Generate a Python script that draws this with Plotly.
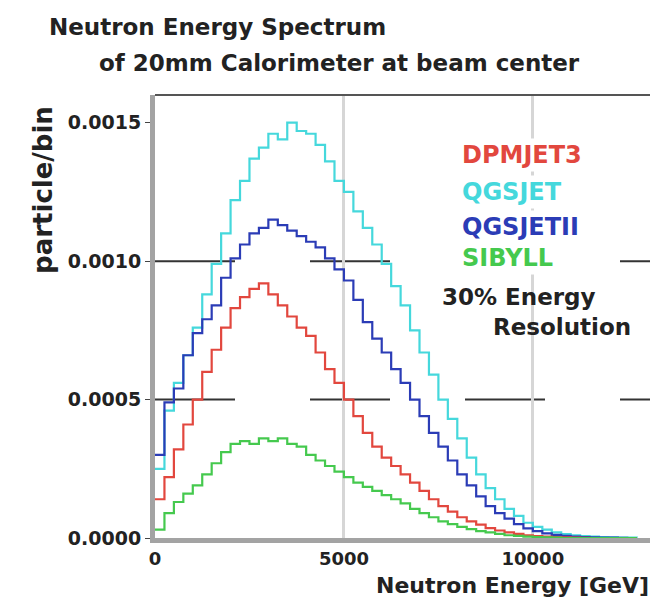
import plotly.graph_objects as go

# Bin lower edges (GeV)
energy = [i * 250 for i in range(52)]

dpmjet3 = [1.4, 2.2, 3.2, 4.1, 5.0, 6.0, 6.8, 7.6, 8.3, 8.7, 9.0, 9.2, 8.8, 8.4, 8.0, 7.6,
           7.3, 6.7, 6.1, 5.6, 5.0, 4.4, 3.8, 3.3, 2.9, 2.6, 2.3, 2.0, 1.7, 1.4, 1.15, 0.95,
           0.75, 0.6, 0.48, 0.36, 0.27, 0.2, 0.15, 0.1, 0.07, 0.05, 0.03, 0.02, 0.01, 0.005,
           0.0, 0.0, 0.0, 0.0, 0.0, 0.0]
qgsjet = [2.5, 4.6, 5.6, 6.6, 7.6, 8.8, 9.9, 11.0, 12.2, 12.9, 13.7, 14.1, 14.6, 14.4, 15.0, 14.7,
          14.6, 14.2, 13.6, 12.9, 12.5, 11.8, 11.2, 10.6, 9.9, 9.1, 8.4, 7.5, 6.7, 5.9, 5.0, 4.3,
          3.6, 2.9, 2.3, 1.8, 1.4, 1.05, 0.8, 0.55, 0.4, 0.3, 0.2, 0.14, 0.1, 0.07,
          0.05, 0.03, 0.02, 0.01, 0.01, 0.005]
qgsjet2 = [3.0, 4.9, 5.4, 6.6, 7.4, 7.9, 8.4, 9.4, 10.1, 10.6, 11.0, 11.2, 11.5, 11.3, 11.1, 10.9,
           10.7, 10.5, 10.1, 9.7, 9.3, 8.6, 7.8, 7.2, 6.7, 6.1, 5.6, 5.0, 4.4, 3.8, 3.3, 2.8,
           2.3, 1.9, 1.5, 1.15, 0.9, 0.7, 0.5, 0.35, 0.25, 0.17, 0.11, 0.08, 0.05, 0.03,
           0.02, 0.01, 0.01, 0.005, 0.0, 0.0]
sibyll = [0.3, 0.9, 1.3, 1.6, 1.9, 2.3, 2.7, 3.1, 3.4, 3.5, 3.4, 3.6, 3.5, 3.6, 3.4, 3.3,
          3.0, 2.8, 2.6, 2.4, 2.2, 2.0, 1.85, 1.7, 1.55, 1.4, 1.25, 1.05, 0.9, 0.75, 0.6, 0.5,
          0.4, 0.32, 0.25, 0.2, 0.15, 0.1, 0.08, 0.05, 0.03, 0.02, 0.01, 0.0, 0.0, 0.0,
          0.0, 0.0, 0.0, 0.0, 0.0, 0.0]
scale = 1e-4

series_names = ["DPMJET3", "QGSJET", "QGSJETII", "SIBYLL"]
series_colors = ["#e2473e", "#45d8dc", "#2b3cb6", "#45c94e"]
series_values = [dpmjet3, qgsjet, qgsjet2, sibyll]

y_tickvals = [0.0, 0.0005, 0.0010, 0.0015]
y_ticktext = ["0.0000", "0.0005", "0.0010", "0.0015"]
y_gridvals = [0.0005, 0.0010]
x_tickvals = [0, 5000, 10000]
x_ticktext = ["0", "5000", "10000"]

FONT = "DejaVu Sans, Verdana, sans-serif"

fig = go.Figure()
for idx in [1, 2, 0, 3]:
    fig.add_trace(go.Scatter(
        x=energy, y=[v * scale for v in series_values[idx]],
        mode="lines", line=dict(color=series_colors[idx], width=2.2, shape="hv"),
        name=series_names[idx], showlegend=False))

fig.update_layout(
    width=661, height=597,
    margin=dict(l=147, r=19, t=87, b=67),
    paper_bgcolor="white", plot_bgcolor="white",
    font=dict(family=FONT, color="#222"),
    xaxis=dict(range=[0, 13100], tickvals=x_tickvals, ticktext=x_ticktext,
               showline=True, linecolor="#a3a3a3", linewidth=5,
               showgrid=True, gridcolor="#d6d6d6", gridwidth=3,
               ticks="", ticklabelstandoff=0,
               tickfont=dict(size=18, family=FONT, color="#222", weight="bold"),
               zeroline=False),
    yaxis=dict(range=[0, 0.0016], tickvals=y_tickvals, ticktext=y_ticktext,
               showline=True, linecolor="#a3a3a3", linewidth=5,
               showgrid=False,
               ticks="outside", ticklen=5, tickcolor="#444",
               tickfont=dict(size=19, family=FONT, color="#222", weight="bold"),
               zeroline=False),
)

# dashed horizontal grid lines
for gv in y_gridvals:
    fig.add_shape(type="line", xref="paper", yref="y", x0=0, x1=1, y0=gv, y1=gv,
                  line=dict(color="#333", width=2, dash="80px,75px"), layer="below")

# frame on top
fig.add_shape(type="line", xref="paper", yref="paper", x0=0, x1=1, y0=1, y1=1,
              line=dict(color="#555", width=2))

# title
fig.add_annotation(xref="paper", yref="paper", x=-0.218, y=1.1535, xanchor="left", yanchor="middle",
                   text="<b>Neutron Energy Spectrum</b>", showarrow=False,
                   font=dict(size=23, family=FONT, color="#222"))
fig.add_annotation(xref="paper", yref="paper", x=-0.117, y=1.072, xanchor="left", yanchor="middle",
                   text="<b>of 20mm Calorimeter at beam center</b>", showarrow=False,
                   font=dict(size=23, family=FONT, color="#222"))
# axis titles
fig.add_annotation(xref="paper", yref="paper", x=1.002, y=-0.108, xanchor="right", yanchor="middle",
                   text="<b>Neutron Energy [GeV]</b>", showarrow=False,
                   font=dict(size=22, family=FONT, color="#222"))
fig.add_annotation(xref="paper", yref="paper", x=-0.226, y=0.786, xanchor="center", yanchor="middle",
                   text="<b>particle/bin</b>", textangle=-90, showarrow=False,
                   font=dict(size=26, family=FONT, color="#222"))

# legend as coloured labels
legend_y = [0.8646, 0.781, 0.702, 0.632]
for name, color, yy in zip(series_names, series_colors, legend_y):
    fig.add_annotation(xref="paper", yref="paper", x=0.614, y=yy, xanchor="left", yanchor="middle",
                       text="<b>" + name + "</b>", showarrow=False,
                       font=dict(size=24, family=FONT, color=color),
                       bgcolor="white", borderpad=2)
fig.add_annotation(xref="paper", yref="paper", x=0.576, y=0.544, xanchor="left", yanchor="middle",
                   text="<b>30% Energy</b>", showarrow=False,
                   font=dict(size=23, family=FONT, color="#222"))
fig.add_annotation(xref="paper", yref="paper", x=0.966, y=0.476, xanchor="right", yanchor="middle",
                   text="<b>Resolution</b>", showarrow=False,
                   font=dict(size=23, family=FONT, color="#222"))

fig.write_html("out.html")
